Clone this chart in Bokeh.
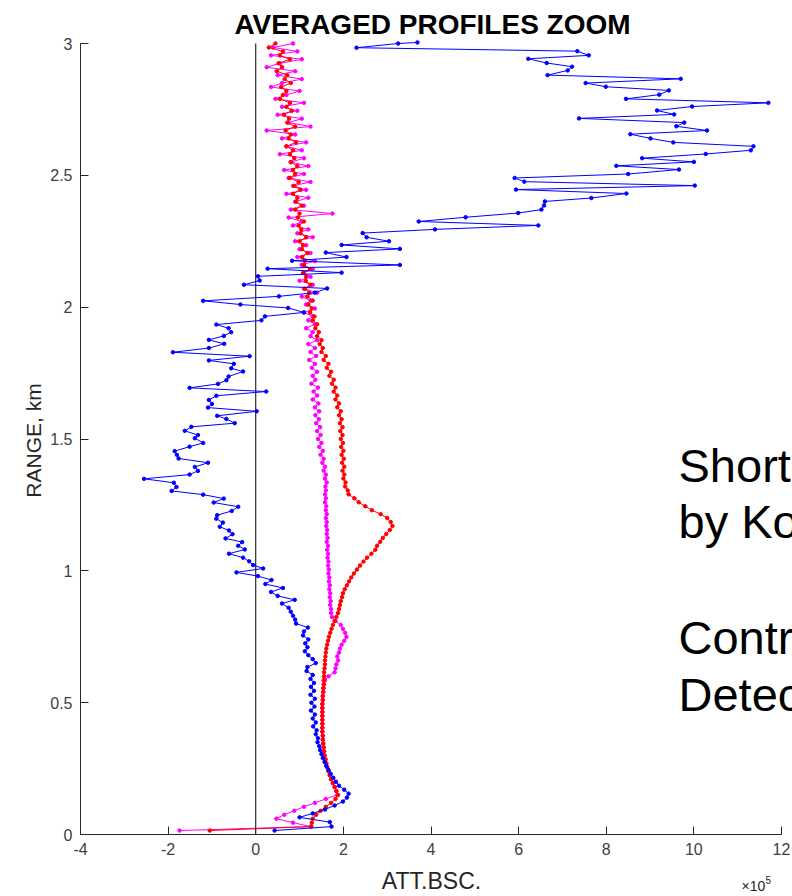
from bokeh.plotting import figure
from bokeh.models import Range1d, Label, FixedTicker, NumeralTickFormatter, LinearAxis
from bokeh.embed import file_html
from bokeh.resources import INLINE

# ---------------- data (ATT.BSC. in units of 1e5, RANGE in km) ----------------
x_ticks = [-4, -2, 0, 2, 4, 6, 8, 10, 12]
y_ticks = [0, 0.5, 1, 1.5, 2, 2.5, 3]

blue_range = [
    3.004, 3.000, 2.984, 2.971, 2.955, 2.942, 2.926, 2.912, 2.898, 2.880,
    2.866, 2.850, 2.836, 2.822, 2.806, 2.790, 2.775, 2.761, 2.746, 2.731,
    2.716, 2.700, 2.686, 2.670, 2.656, 2.640, 2.625, 2.610, 2.595, 2.581,
    2.565, 2.551, 2.536, 2.522, 2.505, 2.490, 2.476, 2.461, 2.446, 2.431,
    2.414, 2.401, 2.386, 2.370, 2.357, 2.341, 2.325, 2.310, 2.295, 2.281,
    2.265, 2.250, 2.236, 2.221, 2.207, 2.190, 2.176, 2.160, 2.146, 2.131,
    2.117, 2.101, 2.085, 2.071, 2.055, 2.041, 2.024, 2.010, 1.997, 1.980,
    1.965, 1.950, 1.934, 1.920, 1.905, 1.891, 1.876, 1.861, 1.845, 1.829,
    1.814, 1.798, 1.785, 1.768, 1.756, 1.737, 1.723, 1.709, 1.694, 1.680,
    1.664, 1.648, 1.633, 1.619, 1.605, 1.588, 1.576, 1.560, 1.546, 1.531,
    1.515, 1.503, 1.485, 1.471, 1.454, 1.440, 1.426, 1.410, 1.394, 1.379,
    1.365, 1.349, 1.334, 1.318, 1.303, 1.289, 1.274, 1.259, 1.243, 1.227,
    1.211, 1.198, 1.183, 1.167, 1.153, 1.139, 1.123, 1.109, 1.095, 1.081,
    1.065, 1.050, 1.036, 1.022, 1.009, 0.994, 0.980, 0.965, 0.950, 0.935,
    0.920, 0.905, 0.890, 0.876, 0.860, 0.845, 0.830, 0.815, 0.800, 0.785,
    0.770, 0.755, 0.740, 0.725, 0.710, 0.695, 0.680, 0.665, 0.650, 0.635,
    0.620, 0.605, 0.590, 0.575, 0.560, 0.545, 0.530, 0.515, 0.500, 0.485,
    0.470, 0.455, 0.440, 0.425, 0.410, 0.395, 0.380, 0.365, 0.350, 0.335,
    0.320, 0.305, 0.290, 0.275, 0.260, 0.245, 0.230, 0.215, 0.200, 0.185,
    0.170, 0.155, 0.140, 0.125, 0.110, 0.095, 0.080, 0.065, 0.047, 0.030,
    0.015,
]
blue_bsc = [
    3.69, 3.25, 2.30, 7.34, 7.60, 6.22, 6.64, 7.22, 7.12, 6.66,
    9.70, 7.53, 7.99, 9.43, 9.21, 8.45, 11.70, 9.96, 9.16, 9.55,
    7.38, 9.78, 9.60, 10.30, 8.55, 9.01, 9.53, 11.36, 11.30, 10.27,
    8.82, 10.00, 8.23, 9.66, 8.50, 5.91, 6.13, 10.02, 5.94, 8.46,
    7.66, 6.60, 6.58, 6.52, 5.99, 4.79, 3.72, 6.45, 4.09, 2.44,
    2.53, 3.04, 1.96, 3.29, 1.60, 2.07, 0.83, 3.29, 0.27, 1.96,
    0.05, 0.09, -0.27, 1.63, 1.35, 0.53, -1.20, -0.35, 0.74, 1.10,
    0.21, 0.13, -0.90, -0.62, -0.56, -0.73, -1.07, -0.72, -1.07, -1.89,
    -0.14, -1.07, -0.50, -0.56, -0.29, -0.62, -0.67, -0.86, -1.51, 0.24,
    -0.90, -1.07, -1.00, -1.09, 0.02, -0.88, -0.67, -0.48, -1.47, -1.62,
    -1.32, -1.39, -1.20, -1.51, -1.85, -1.80, -1.76, -1.09, -1.39, -1.32,
    -1.51, -2.55, -1.87, -1.81, -1.92, -1.20, -0.73, -0.96, -0.40, -0.55,
    -0.88, -0.90, -0.75, -0.82, -0.61, -0.53, -0.69, -0.31, -0.40, -0.25,
    -0.61, -0.29, -0.15, -0.06, 0.17, -0.44, 0.05, 0.36, 0.22, 0.62,
    0.35, 0.50, 0.89, 0.60, 0.75, 0.80, 0.85, 0.90, 0.92, 1.19,
    1.10, 1.08, 1.20, 1.13, 1.18, 1.12, 1.20, 1.30, 1.37, 1.18,
    1.16, 1.30, 1.25, 1.33, 1.26, 1.33, 1.25, 1.35, 1.27, 1.34,
    1.26, 1.35, 1.30, 1.37, 1.31, 1.39, 1.37, 1.42, 1.41, 1.45,
    1.47, 1.50, 1.53, 1.57, 1.61, 1.66, 1.71, 1.77, 1.83, 1.90,
    2.02, 2.12, 2.08, 1.99, 1.80, 1.58, 1.30, 1.00, 1.69, 1.73,
    0.43,
]

range_km = [
    3.000, 2.985, 2.970, 2.955, 2.940, 2.925, 2.910, 2.895, 2.880, 2.865,
    2.850, 2.835, 2.820, 2.805, 2.790, 2.775, 2.760, 2.745, 2.730, 2.715,
    2.700, 2.685, 2.670, 2.655, 2.640, 2.625, 2.610, 2.595, 2.580, 2.565,
    2.550, 2.535, 2.520, 2.505, 2.490, 2.475, 2.460, 2.445, 2.430, 2.415,
    2.400, 2.385, 2.370, 2.355, 2.340, 2.325, 2.310, 2.295, 2.280, 2.265,
    2.250, 2.235, 2.220, 2.205, 2.190, 2.175, 2.160, 2.145, 2.130, 2.115,
    2.100, 2.085, 2.070, 2.055, 2.040, 2.025, 2.010, 1.995, 1.980, 1.965,
    1.950, 1.935, 1.920, 1.905, 1.890, 1.875, 1.860, 1.845, 1.830, 1.815,
    1.800, 1.785, 1.770, 1.755, 1.740, 1.725, 1.710, 1.695, 1.680, 1.665,
    1.650, 1.635, 1.620, 1.605, 1.590, 1.575, 1.560, 1.545, 1.530, 1.515,
    1.500, 1.485, 1.470, 1.455, 1.440, 1.425, 1.410, 1.395, 1.380, 1.365,
    1.350, 1.335, 1.320, 1.305, 1.290, 1.275, 1.260, 1.245, 1.230, 1.215,
    1.200, 1.185, 1.170, 1.155, 1.140, 1.125, 1.110, 1.095, 1.080, 1.065,
    1.050, 1.035, 1.020, 1.005, 0.990, 0.975, 0.960, 0.945, 0.930, 0.915,
    0.900, 0.885, 0.870, 0.855, 0.840, 0.825, 0.810, 0.795, 0.780, 0.765,
    0.750, 0.735, 0.720, 0.705, 0.690, 0.675, 0.660, 0.645, 0.630, 0.615,
    0.600, 0.585, 0.570, 0.555, 0.540, 0.525, 0.510, 0.495, 0.480, 0.465,
    0.450, 0.435, 0.420, 0.405, 0.390, 0.375, 0.360, 0.345, 0.330, 0.315,
    0.300, 0.285, 0.270, 0.255, 0.240, 0.225, 0.210, 0.195, 0.180, 0.165,
    0.150, 0.135, 0.120, 0.105, 0.090, 0.075, 0.060, 0.045, 0.030, 0.015,
]
red_bsc = [
    0.45, 0.30, 0.62, 0.55, 0.78, 0.52, 0.60, 0.48, 0.72, 0.66,
    0.80, 0.58, 0.70, 0.62, 0.55, 0.78, 0.70, 0.82, 0.64, 0.76,
    0.72, 0.90, 0.68, 0.80, 0.75, 0.92, 0.70, 0.85, 0.78, 0.88,
    0.80, 0.95, 0.85, 0.90, 0.78, 0.98, 0.88, 1.02, 0.85, 0.95,
    0.92, 1.05, 0.90, 1.00, 0.96, 1.10, 0.98, 1.04, 1.02, 1.15,
    1.00, 1.08, 1.05, 1.18, 1.06, 1.12, 1.10, 1.24, 1.08, 1.15,
    1.14, 1.25, 1.12, 1.22, 1.18, 1.30, 1.20, 1.28, 1.24, 1.34,
    1.30, 1.40, 1.36, 1.44, 1.40, 1.50, 1.46, 1.53, 1.50, 1.60,
    1.55, 1.66, 1.62, 1.72, 1.68, 1.78, 1.74, 1.82, 1.78, 1.86,
    1.82, 1.90, 1.86, 1.94, 1.90, 1.96, 1.92, 1.98, 1.93, 1.98,
    1.94, 1.99, 1.95, 2.00, 1.96, 2.01, 1.97, 2.02, 1.98, 2.02,
    2.00, 2.05, 2.04, 2.10, 2.12, 2.25, 2.35, 2.50, 2.65, 2.85,
    3.00, 3.08, 3.12, 3.06, 2.98, 2.90, 2.84, 2.77, 2.73, 2.64,
    2.54, 2.46, 2.38, 2.31, 2.24, 2.18, 2.13, 2.08, 2.03, 1.99,
    1.97, 1.94, 1.92, 1.90, 1.88, 1.84, 1.80, 1.76, 1.73, 1.70,
    1.67, 1.65, 1.63, 1.61, 1.60, 1.59, 1.58, 1.58, 1.57, 1.56,
    1.56, 1.55, 1.55, 1.54, 1.54, 1.53, 1.53, 1.52, 1.52, 1.52,
    1.52, 1.52, 1.52, 1.52, 1.52, 1.53, 1.53, 1.54, 1.55, 1.56,
    1.57, 1.59, 1.61, 1.63, 1.66, 1.69, 1.72, 1.76, 1.80, 1.84,
    1.88, 1.82, 1.72, 1.60, 1.48, 1.38, 1.30, 1.28, 1.27, -1.05,
]
magenta_bsc = [
    0.85, 0.40, 0.95, 0.35, 1.05, 0.55, 0.25, 0.90, 0.50, 1.05,
    0.60, 0.35, 1.00, 0.70, 0.45, 1.10, 0.60, 0.95, 0.50, 1.05,
    0.75, 1.25, 0.25, 0.90, 0.60, 1.15, 0.70, 1.05, 0.55, 1.10,
    0.80, 1.20, 0.65, 1.10, 0.75, 1.25, 0.85, 1.15, 0.70, 1.20,
    0.90, 1.10, 0.80, 1.75, 0.75, 1.05, 0.85, 1.20, 0.95, 1.30,
    0.90, 1.15, 1.00, 1.25, 0.95, 1.35, 1.05, 1.30, 1.10, 1.25,
    1.00, 1.30, 1.10, 1.40, 1.05, 1.25, 1.15, 1.35, 1.10, 1.30,
    1.20, 1.35, 1.15, 1.30, 1.25, 1.40, 1.20, 1.35, 1.25, 1.38,
    1.22, 1.35, 1.28, 1.40, 1.30, 1.36, 1.27, 1.42, 1.32, 1.40,
    1.30, 1.43, 1.35, 1.45, 1.36, 1.44, 1.38, 1.47, 1.40, 1.48,
    1.42, 1.50, 1.45, 1.53, 1.48, 1.55, 1.52, 1.58, 1.55, 1.60,
    1.58, 1.62, 1.59, 1.60, 1.58, 1.60, 1.58, 1.61, 1.60, 1.62,
    1.60, 1.62, 1.61, 1.63, 1.62, 1.64, 1.62, 1.65, 1.63, 1.65,
    1.64, 1.66, 1.65, 1.67, 1.66, 1.68, 1.67, 1.69, 1.68, 1.70,
    1.69, 1.71, 1.70, 1.72, 1.72, 1.74, 1.82, 1.94, 1.99, 2.04,
    2.07, 2.02, 1.96, 1.92, 1.90, 1.86, 1.88, 1.84, 1.82, 1.80,
    1.66, 1.58, 1.56, 1.55, 1.54, 1.53, 1.53, 1.52, 1.52, 1.52,
    1.52, 1.52, 1.52, 1.52, 1.52, 1.53, 1.53, 1.54, 1.55, 1.56,
    1.57, 1.59, 1.61, 1.63, 1.66, 1.69, 1.72, 1.76, 1.80, 1.84,
    1.86, 1.60, 1.35, 1.10, 0.88, 0.65, 0.47, 0.85, 1.25, -1.74,
]

title_text = "AVERAGED PROFILES ZOOM"
x_label = "ATT.BSC."
y_label = "RANGE, km"
note_lines = ["Short", "by Ko", "Contr", "Detec"]

# ---------------- figure ----------------
FONT = "Liberation Sans"
AX = "#262626"
W, H = 792, 896
# frame covers the whole canvas; axes are pinned at x=-4 / y=0
PX_X = 701 / 16.0      # pixels per x unit
PX_Y = 791 / 3.0       # pixels per y unit
x_lo = x_ticks[0] - 80 / PX_X
x_hi = x_ticks[-1] + 11 / PX_X
y_lo = y_ticks[0] - 62 / PX_Y
y_hi = y_ticks[-1] + 43 / PX_Y

p = figure(width=W, height=H, x_range=Range1d(x_lo, x_hi), y_range=Range1d(y_lo, y_hi),
           output_backend="svg", toolbar_location=None,
           x_axis_location=None, y_axis_location=None,
           min_border_left=0, min_border_right=0, min_border_top=0, min_border_bottom=0)
p.outline_line_color = None
p.grid.visible = False
p.background_fill_color = "white"
p.border_fill_color = "white"

xaxis = LinearAxis(fixed_location=y_ticks[0], bounds=(x_ticks[0], x_ticks[-1]))
yaxis = LinearAxis(fixed_location=x_ticks[0], bounds=(y_ticks[0], y_ticks[-1]))
p.add_layout(xaxis, "below")
p.add_layout(yaxis, "left")

for ax, ticks in ((xaxis, x_ticks), (yaxis, y_ticks)):
    ax.ticker = FixedTicker(ticks=ticks)
    ax.formatter = NumeralTickFormatter(format="0.[0]")
    ax.axis_line_color = AX
    ax.major_tick_line_color = AX
    ax.major_tick_in = 8
    ax.major_tick_out = 0
    ax.minor_tick_in = 0
    ax.minor_tick_out = 0
    ax.major_label_text_font = FONT
    ax.major_label_text_font_size = "16px"
    ax.major_label_text_color = "#404040"
    ax.major_label_standoff = 8

# zero reference line across the y axis extent
p.line([0, 0], [y_ticks[0], y_ticks[-1]], line_color="black", line_width=1)

p.line(magenta_bsc, range_km, line_color="#ff00ff", line_width=1)
p.scatter(magenta_bsc, range_km, size=3.5, color="#ff00ff")
p.line(red_bsc, range_km, line_color="#ff0000", line_width=1)
p.scatter(red_bsc, range_km, size=3.5, color="#ff0000")
p.line(blue_bsc, blue_range, line_color="#0000ff", line_width=1)
p.scatter(blue_bsc, blue_range, size=3.5, color="#0000ff")


def px_to_x(px):
    return x_ticks[0] + (px - 80) / PX_X


def py_to_y(py):
    return (834 - py) / PX_Y


def add_text(text, px, baseline_py, size, **kw):
    # Bokeh's alphabetic anchor sits ~0.39 em above the glyph baseline; compensate
    p.add_layout(Label(x=px_to_x(px), y=py_to_y(baseline_py - 0.39 * size), text=text,
                       text_font=FONT, text_font_size=f"{size}px",
                       text_baseline="alphabetic", **kw))


add_text(title_text, 432, 35, 28, text_font_style="bold", text_align="center",
         text_color="black")
add_text(x_label, 431, 889, 23, text_align="center", text_color=AX)
add_text("\u00d710", 741, 891, 14, text_align="left", text_color=AX)
add_text("5", 765, 883, 10, text_align="left", text_color=AX)

p.add_layout(Label(x=px_to_x(33), y=py_to_y(440), text=y_label, text_font=FONT,
                   text_font_size="21px", angle=1.5707963, text_align="center",
                   text_baseline="middle", text_color=AX))

note_baselines = [483, 539, 655, 712]
for t, by in zip(note_lines, note_baselines):
    add_text(t, 678, by, 47, text_align="left", text_color="black")

open("out.html", "w").write(file_html(p, INLINE))
